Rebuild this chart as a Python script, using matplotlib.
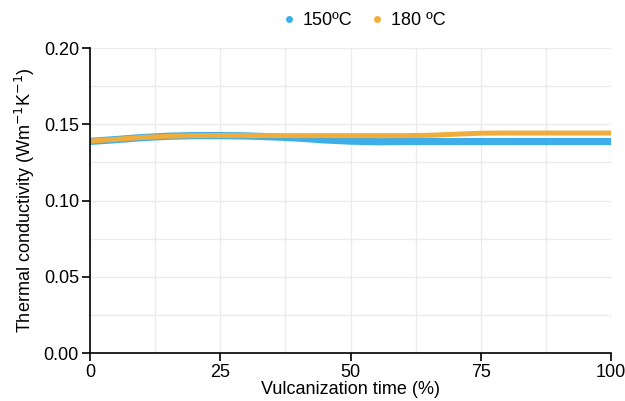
import matplotlib
matplotlib.use("Agg")
import matplotlib.pyplot as plt
from matplotlib.ticker import MultipleLocator, FormatStrFormatter
from matplotlib.lines import Line2D

plt.rcParams['font.family'] = ['Liberation Sans', 'DejaVu Sans']

time_pct = [0, 5, 10, 15, 20, 25, 30, 35, 40, 45, 50, 55, 60, 65, 70, 75, 80, 85, 90, 95, 100]
k_150 = [0.1388, 0.1400, 0.1413, 0.1422, 0.1426, 0.1426, 0.1424, 0.1418, 0.1410, 0.1398,
         0.1390, 0.1386, 0.1387, 0.1387, 0.1387, 0.1387, 0.1387, 0.1387, 0.1387, 0.1387, 0.1387]
k_180 = [0.1390, 0.1402, 0.1414, 0.1422, 0.1426, 0.1427, 0.1426, 0.1426, 0.1426, 0.1426,
         0.1426, 0.1426, 0.1426, 0.1428, 0.1435, 0.1442, 0.1443, 0.1443, 0.1443, 0.1443, 0.1443]
labels = ['150ºC', '180 ºC']
colors = ['#3daee9', '#f0ad3c']

fig = plt.figure(figsize=(6.25, 4.01), dpi=100)
ax = fig.add_axes([0.144, 0.1197, 0.8336, 0.7603])

ax.plot(time_pct, k_150, color=colors[0], lw=5.2, solid_capstyle='butt', label=labels[0])
ax.plot(time_pct, k_180, color=colors[1], lw=3.6, solid_capstyle='butt', label=labels[1])

ax.set_xlim(0, 100)
ax.set_ylim(0, 0.20)
ax.xaxis.set_major_locator(MultipleLocator(25))
ax.xaxis.set_minor_locator(MultipleLocator(12.5))
ax.yaxis.set_major_locator(MultipleLocator(0.05))
ax.yaxis.set_minor_locator(MultipleLocator(0.025))
ax.yaxis.set_major_formatter(FormatStrFormatter('%.2f'))
ax.grid(True, which='both', color='#ebebeb', lw=1.0, zorder=0)
ax.set_axisbelow(True)
ax.tick_params(which='minor', length=0)
ax.tick_params(which='major', length=6, width=1.2, colors='black', labelsize=13, pad=2)
for s in ['top', 'right']:
    ax.spines[s].set_visible(False)
for s in ['left', 'bottom']:
    ax.spines[s].set_linewidth(1.2)

ax.set_xlabel('Vulcanization time (%)', fontsize=13, labelpad=0)
ax.set_ylabel('Thermal conductivity (Wm$^{-1}$K$^{-1}$)', fontsize=13, labelpad=5)

handles = [Line2D([], [], ls='none', marker='o', ms=5, color=c, mec='none') for c in colors]
fig.legend(handles, labels, loc='upper center', bbox_to_anchor=(0.58, 1.01), ncol=2,
           frameon=False, fontsize=13, handletextpad=0.25, columnspacing=0.9, handlelength=1.0)

fig.savefig('out.png', dpi=100)
